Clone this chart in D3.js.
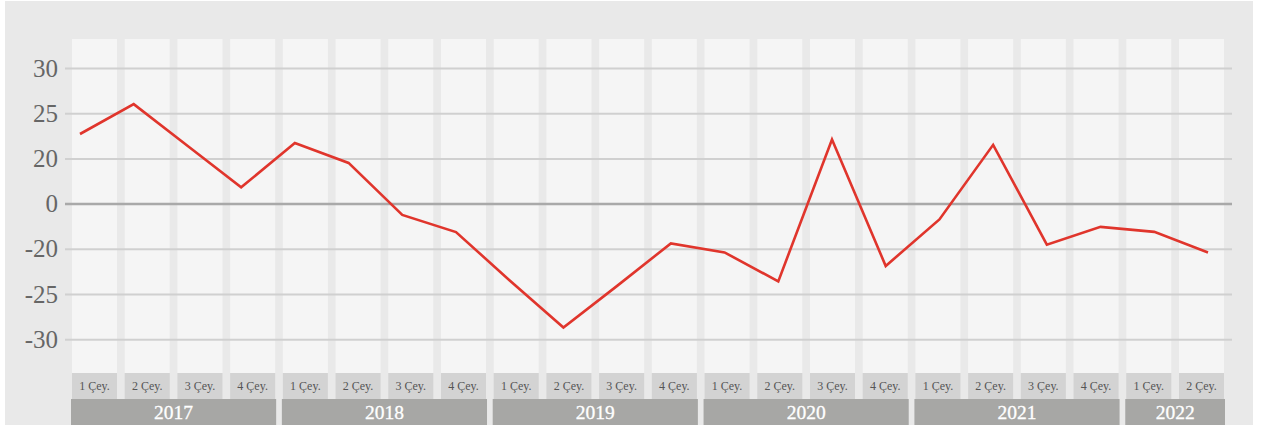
<!DOCTYPE html>
<html>
<head>
<meta charset="utf-8">
<script src="https://cdn.jsdelivr.net/npm/d3@7"></script>
<style>
  html, body { margin: 0; padding: 0; background: #ffffff; }
  svg { display: block; }
  text { font-family: "Liberation Serif", "DejaVu Serif", serif; }
</style>
</head>
<body>
<svg id="chart" width="1264" height="430"></svg>
<script>
// Quarterly series, 2017 Q1 – 2022 Q2
const years = ["2017", "2018", "2019", "2020", "2021", "2022"];
const quartersPerYear = [4, 4, 4, 4, 4, 2];
const quarterLabels = ["1 Çey.", "2 Çey.", "3 Çey.", "4 Çey."];
const values = [
  22.7, 26.0, 21.4, 7.2,
  21.7, 18.0, -5.0, -12.6,
  -23.5, -28.7, -24.1, -17.6,
  -20.4, -23.6, 22.1, -21.9,
  -7.0, 21.5, -18.2, -10.3,
  -12.5, -20.4
];
// Broken value axis: evenly spaced tick rows
const yTicks = [30, 25, 20, 0, -20, -25, -30];

// Flatten periods
const periods = [];
years.forEach((y, yi) => {
  for (let q = 0; q < quartersPerYear[yi]; q++) {
    periods.push({ id: y + "-" + (q + 1), year: y, q: quarterLabels[q] });
  }
});
periods.forEach((p, i) => p.value = values[i]);

const svg = d3.select("#chart");

// Outer panel
svg.append("rect")
  .attr("x", 5).attr("y", 1).attr("width", 1248).attr("height", 424)
  .attr("fill", "#e9e9e9");

// Column band scale
const x = d3.scaleBand()
  .domain(periods.map(d => d.id))
  .range([72, 1224])
  .paddingInner(0.146)
  .paddingOuter(0)
  .align(0);

// Line position scale
const xl = d3.scalePoint()
  .domain(periods.map(d => d.id))
  .range([80, 1208]);

// Piecewise value scale
const yTop = 68, yStep = 45.2;
const y = d3.scaleLinear()
  .domain(yTicks)
  .range(yTicks.map((d, i) => yTop + i * yStep));

// Column backgrounds
svg.append("g").selectAll("rect")
  .data(periods)
  .join("rect")
  .attr("x", d => x(d.id))
  .attr("y", 39)
  .attr("width", x.bandwidth())
  .attr("height", 334)
  .attr("fill", "#f5f5f5");

// Quarter label boxes
const qg = svg.append("g");
qg.selectAll("rect")
  .data(periods)
  .join("rect")
  .attr("x", d => x(d.id))
  .attr("y", 373)
  .attr("width", x.bandwidth())
  .attr("height", 26)
  .attr("fill", "#d3d3d3");
qg.selectAll("text")
  .data(periods)
  .join("text")
  .attr("x", d => x(d.id) + x.bandwidth() / 2)
  .attr("y", 390)
  .attr("text-anchor", "middle")
  .attr("font-size", 12)
  .attr("fill", "#555555")
  .text(d => d.q);

// Year bars
const yearSpans = years.map(yr => {
  const ps = periods.filter(p => p.year === yr);
  const x0 = x(ps[0].id);
  const x1 = x(ps[ps.length - 1].id) + x.bandwidth();
  return { year: yr, x0, x1 };
});
const yg = svg.append("g");
yg.selectAll("rect")
  .data(yearSpans)
  .join("rect")
  .attr("x", d => d.x0 - 1)
  .attr("y", 399)
  .attr("width", d => d.x1 - d.x0 + 2)
  .attr("height", 26)
  .attr("fill", "#a7a7a5");
yg.selectAll("text")
  .data(yearSpans)
  .join("text")
  .attr("x", d => (d.x0 + d.x1) / 2)
  .attr("y", 418.5)
  .attr("text-anchor", "middle")
  .attr("font-size", 19.5)
  .attr("fill", "#ffffff")
  .attr("stroke", "#ffffff")
  .attr("stroke-width", 0.3)
  .text(d => d.year);

// Gridlines and value labels
const axis = d3.axisLeft(y)
  .tickValues(yTicks)
  .tickSize(-1167)
  .tickPadding(7)
  .tickFormat(d => String(d));
const ag = svg.append("g")
  .attr("transform", "translate(1232,0)")
  .call(axis);
ag.select(".domain").remove();
ag.selectAll(".tick line")
  .attr("x1", -1167).attr("x2", 0)
  .attr("stroke", d => d === 0 ? "#a9a9a9" : "#d0d0d0")
  .attr("stroke-width", d => d === 0 ? 2.5 : 2);
ag.selectAll(".tick text")
  .attr("x", -1174)
  .attr("font-size", 25)
  .attr("fill", "#666666")
  .attr("font-family", "\"Liberation Serif\", serif");

// Data line
const line = d3.line()
  .x(d => xl(d.id))
  .y(d => y(d.value));
svg.append("path")
  .datum(periods)
  .attr("d", line)
  .attr("fill", "none")
  .attr("stroke", "#e0352c")
  .attr("stroke-width", 2.6)
  .attr("stroke-linejoin", "miter");
</script>
</body>
</html>
